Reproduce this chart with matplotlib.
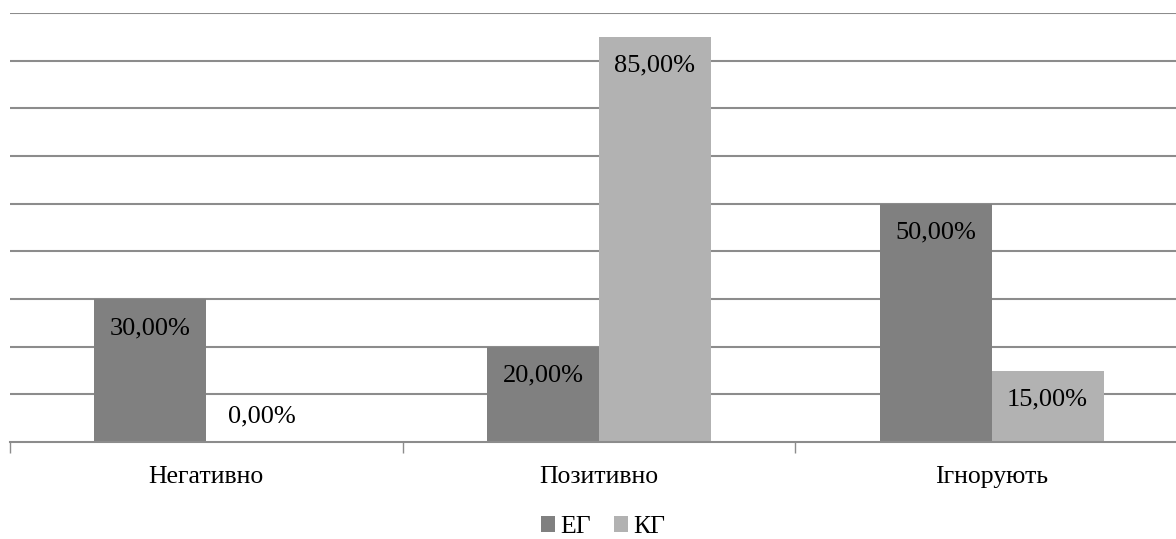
import numpy as np
import matplotlib.pyplot as plt

plt.rcParams['font.family'] = ['Liberation Serif', 'DejaVu Serif']

categories = ['Негативно', 'Позитивно', 'Ігнорують']
eg = [0.30, 0.20, 0.50]
kg = [0.00, 0.85, 0.15]
series_names = ['ЕГ', 'КГ']

fig = plt.figure(figsize=(11.76, 5.39), dpi=100)
ax = fig.add_axes([10/1176, 97/539, 1178/1176, 429/539])

x = np.arange(len(categories))
w = 0.285
b1 = ax.bar(x - w/2, eg, w, color='#808080', label=series_names[0], zorder=2)
b2 = ax.bar(x + w/2, kg, w, color='#b2b2b2', label=series_names[1], zorder=2)

# labels inside the top of each bar
for bars, vals in ((b1, eg), (b2, kg)):
    for r, v in zip(bars, vals):
        cx = r.get_x() + r.get_width()/2
        dy = -29 if v > 0 else 26
        ax.annotate(f'{v*100:.2f}%'.replace('.', ','), (cx, v), xytext=(0, dy),
                    textcoords='offset pixels', ha='center', va='center',
                    fontsize=19, color='black', zorder=3)

ax.set_xlim(-0.5, 2.5)
ax.set_ylim(0, 0.9)
ax.set_yticks(np.arange(0.1, 0.91, 0.1))
ax.yaxis.grid(True, color='#8c8c8c', lw=1.5, zorder=0)
ax.tick_params(axis='y', length=0, labelleft=False)

ax.set_xticks([-0.5, 0.5, 1.5, 2.5])
ax.set_xticklabels([])
ax.tick_params(axis='x', which='major', length=8, color='#8c8c8c', width=1)
ax.set_xticks(x, minor=True)
ax.set_xticklabels(categories, minor=True, fontsize=18.5)
ax.tick_params(axis='x', which='minor', length=0, pad=17.5)

for s in ['top', 'right', 'left']:
    ax.spines[s].set_visible(False)
ax.spines['bottom'].set_color('#8c8c8c')
ax.spines['bottom'].set_linewidth(1.5)

fig.legend(loc='center', bbox_to_anchor=(603/1176, 1 - 527/539), ncol=2, frameon=False,
           fontsize=18.5, handlelength=0.55, handleheight=0.55, handletextpad=0.2,
           columnspacing=0.9, borderpad=0)

fig.savefig('out.png', dpi=100)
